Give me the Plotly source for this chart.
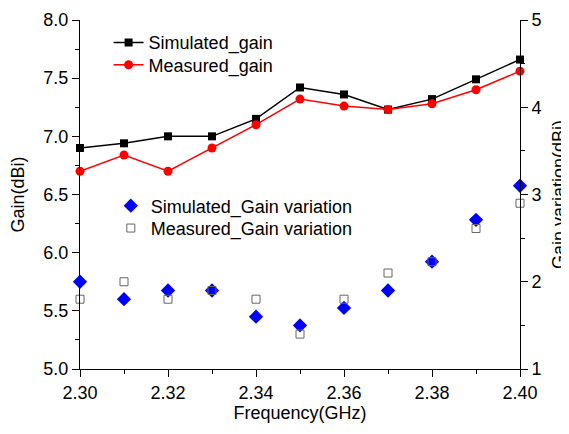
import plotly.graph_objects as go

freq = [2.30, 2.31, 2.32, 2.33, 2.34, 2.35, 2.36, 2.37, 2.38, 2.39, 2.40]
sim_gain = [6.90, 6.94, 7.00, 7.00, 7.15, 7.42, 7.36, 7.23, 7.32, 7.49, 7.66]
meas_gain = [6.70, 6.84, 6.70, 6.90, 7.10, 7.32, 7.26, 7.23, 7.28, 7.40, 7.56]
sim_var = [2.00, 1.80, 1.90, 1.90, 1.60, 1.50, 1.70, 1.90, 2.23, 2.71, 3.10]
meas_var = [1.80, 2.00, 1.80, 1.90, 1.80, 1.40, 1.80, 2.10, 2.23, 2.61, 2.90]

FONT = "Liberation Sans, Arial, sans-serif"
FS = 18

fig = go.Figure()
fig.add_trace(go.Scatter(x=freq, y=sim_gain, mode="lines+markers", name="Simulated_gain",
                         line=dict(color="black", width=1.5),
                         marker=dict(symbol="square", size=8, color="black"),
                         cliponaxis=False, legend="legend"))
fig.add_trace(go.Scatter(x=freq, y=meas_gain, mode="lines+markers", name="Measured_gain",
                         line=dict(color="red", width=1.5),
                         marker=dict(symbol="circle", size=9, color="red"),
                         cliponaxis=False, legend="legend2"))
fig.add_trace(go.Scatter(x=freq, y=sim_var, mode="markers", name="Simulated_Gain variation",
                         marker=dict(symbol="diamond", size=11, color="#0000ff"),
                         yaxis="y2", cliponaxis=False, legend="legend3"))
fig.add_trace(go.Scatter(x=freq, y=meas_var, mode="markers", name="Measured_Gain variation",
                         marker=dict(symbol="square-open", size=8, color="#666666",
                                     line=dict(width=1)),
                         yaxis="y2", cliponaxis=False, legend="legend4"))

axis_common = dict(showline=True, linecolor="black", linewidth=1, ticks="outside",
                   ticklen=7, tickcolor="black", showgrid=False, zeroline=False,
                   automargin=False,
                   tickfont=dict(family=FONT, size=FS, color="black"))
minor_common = dict(ticks="outside", ticklen=4, tickcolor="black")

def leg(x, y):
    return dict(x=x, y=y, xanchor="left", yanchor="middle", bgcolor="rgba(0,0,0,0)",
                font=dict(family=FONT, size=FS, color="black"), itemwidth=30)

fig.update_layout(
    width=561, height=426,
    margin=dict(l=72, r=49, t=12, b=65),
    paper_bgcolor="white", plot_bgcolor="white",
    font=dict(family=FONT, size=FS, color="black"),
    xaxis=dict(range=[2.30, 2.40], dtick=0.02, tickformat=".2f",
               minor=dict(dtick=0.01, **minor_common),
               title=dict(text="Frequency(GHz)", font=dict(family=FONT, size=FS), standoff=4),
               **axis_common),
    yaxis=dict(range=[5.0, 8.0], dtick=0.5, tickformat=".1f",
               minor=dict(dtick=0.25, **minor_common),
               title=dict(text="Gain(dBi)", font=dict(family=FONT, size=FS), standoff=14),
               **axis_common),
    yaxis2=dict(range=[1, 5], dtick=1, overlaying="y", side="right",
                minor=dict(dtick=0.5, **minor_common),
                title=dict(text="Gain variation(dBi)", font=dict(family=FONT, size=FS), standoff=13),
                **axis_common),
    legend=leg(0.065, 0.935),
    legend2=leg(0.065, 0.871),
    legend3=leg(0.07, 0.467),
    legend4=leg(0.07, 0.403),
    showlegend=True,
)

fig.write_html("out.html")
